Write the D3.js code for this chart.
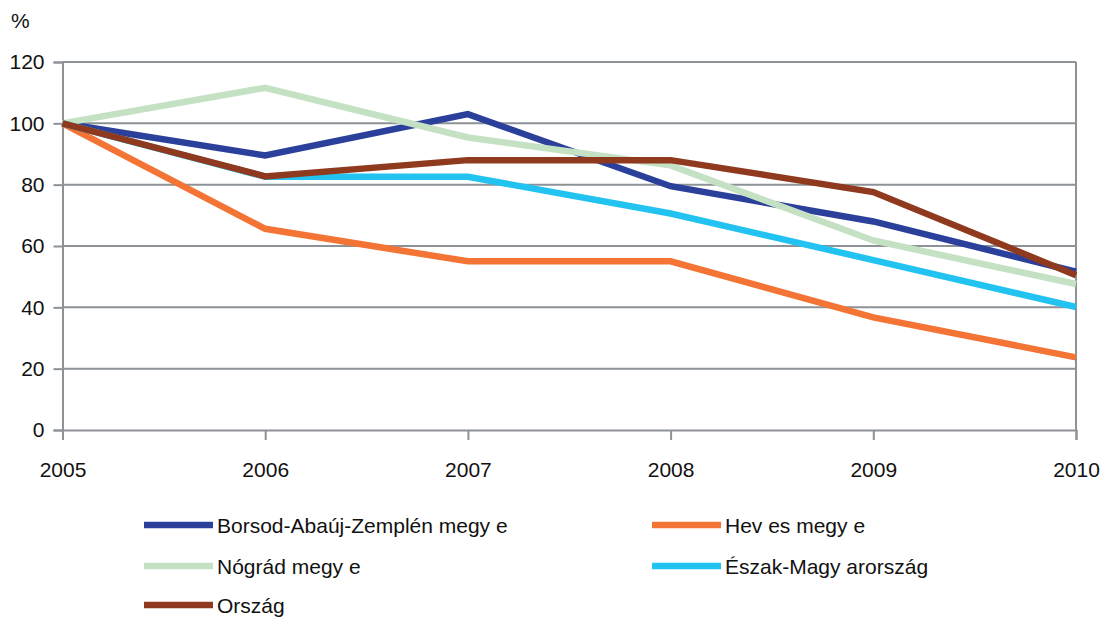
<!DOCTYPE html>
<html>
<head>
<meta charset="utf-8">
<script src="https://cdn.jsdelivr.net/npm/d3@7"></script>
<style>
  html, body { margin: 0; padding: 0; background: #fff; }
  svg { display: block; font-family: "Liberation Sans", Arial, sans-serif; }
</style>
</head>
<body>
<svg id="chart" width="1102" height="618"></svg>
<script>
const years = [2005, 2006, 2007, 2008, 2009, 2010];
const yTicks = [0, 20, 40, 60, 80, 100, 120];
const seriesNames = ["Borsod-Abaúj-Zemplén megy e", "Hev es  megy e", "Nógrád megy e", "Észak-Magy arország", "Ország"];
const borsod = [100, 89.5, 103, 79.5, 68, 51.6];
const heves = [100, 65.6, 55, 55, 36.7, 23.7];
const nograd = [100, 111.6, 95.4, 86.3, 61.8, 47.6];
const eszak = [100, 82.6, 82.6, 70.6, 55.4, 40.1];
const orszag = [100, 82.7, 88, 88, 77.6, 50.5];
const colors = ["#2b409a", "#f37435", "#c4e1c4", "#22c3f1", "#8f3a1f"];

const allSeries = [borsod, heves, nograd, eszak, orszag];

const svg = d3.select("#chart");
const margin = { left: 62.5, right: 1076, top: 62, bottom: 430 };
const fs = 21;

const x = d3.scalePoint().domain(years).range([margin.left, margin.right]);
const y = d3.scaleLinear().domain([0, 120]).range([margin.bottom, margin.top]);

const gridColor = "#8d9297";

// horizontal gridlines
svg.append("g").selectAll("line").data(yTicks.filter(d => d > 0)).join("line")
  .attr("x1", margin.left).attr("x2", margin.right)
  .attr("y1", d => y(d)).attr("y2", d => y(d))
  .attr("stroke", gridColor).attr("stroke-width", 2);

// right border
svg.append("line")
  .attr("x1", margin.right).attr("x2", margin.right)
  .attr("y1", margin.top).attr("y2", margin.bottom)
  .attr("stroke", gridColor).attr("stroke-width", 2);

// y axis
const yAxis = d3.axisLeft(y).tickValues(yTicks).tickSize(9).tickPadding(9);
const gy = svg.append("g").attr("transform", `translate(${margin.left},0)`).call(yAxis);
gy.select(".domain").attr("stroke", gridColor).attr("stroke-width", 2);
gy.selectAll(".tick line").attr("stroke", gridColor).attr("stroke-width", 2);
gy.selectAll(".tick text").attr("font-size", fs).attr("fill", "#111")
  .attr("font-family", "Liberation Sans, Arial, sans-serif");

// x axis
const xAxis = d3.axisBottom(x).tickSize(10).tickPadding(22);
const gx = svg.append("g").attr("transform", `translate(0,${margin.bottom})`).call(xAxis);
gx.select(".domain").attr("stroke", gridColor).attr("stroke-width", 2);
gx.selectAll(".tick line").attr("stroke", gridColor).attr("stroke-width", 2);
gx.selectAll(".tick text").attr("font-size", fs).attr("fill", "#111")
  .attr("font-family", "Liberation Sans, Arial, sans-serif");

// % label
svg.append("text").attr("x", 11).attr("y", 28).attr("font-size", fs).attr("fill", "#111").text("%");

// lines
const line = d3.line().x((d, i) => x(years[i])).y(d => y(d));
svg.append("g").selectAll("path").data(allSeries).join("path")
  .attr("d", d => line(d))
  .attr("fill", "none")
  .attr("stroke", (d, i) => colors[i])
  .attr("stroke-width", 6.5)
  .attr("stroke-linejoin", "miter");

// legend
const legendPos = [
  { lx: 144, ly: 525 }, { lx: 652, ly: 525 },
  { lx: 144, ly: 566 }, { lx: 652, ly: 566 },
  { lx: 144, ly: 605 }
];
const lg = svg.append("g").selectAll("g").data(seriesNames).join("g")
  .attr("transform", (d, i) => `translate(${legendPos[i].lx},${legendPos[i].ly})`);
lg.append("line").attr("x1", 0).attr("x2", 69).attr("y1", 0).attr("y2", 0)
  .attr("stroke", (d, i) => colors[i]).attr("stroke-width", 6.5);
lg.append("text").attr("x", 73).attr("y", 7.5).attr("font-size", fs).attr("fill", "#111")
  .text(d => d);
</script>
</body>
</html>
